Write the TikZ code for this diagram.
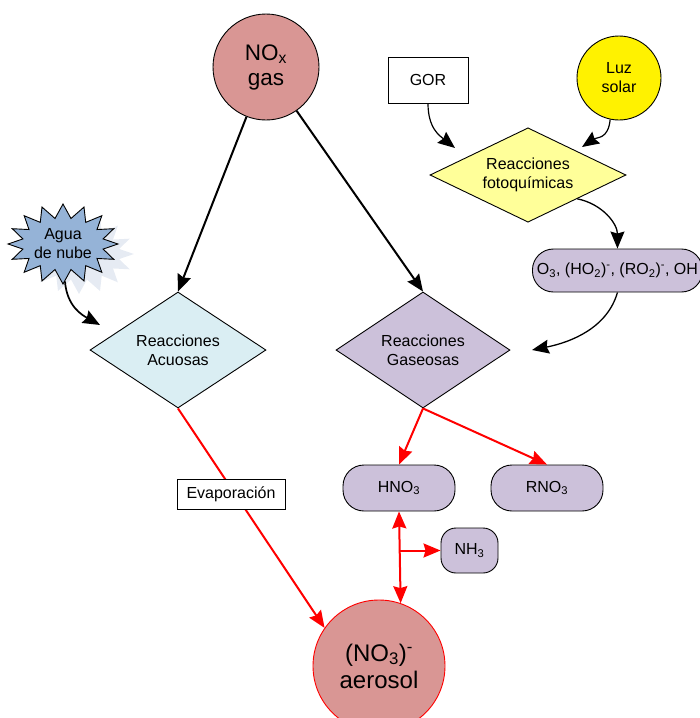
\documentclass[tikz,border=0pt]{standalone}
\usepackage{fontspec}
\setmainfont{Liberation Sans}
\usetikzlibrary{shapes.geometric, shapes.symbols, shadows, arrows.meta}

\definecolor{rosa}{HTML}{D99694}
\definecolor{agua}{HTML}{95B3D7}
\definecolor{sombra}{HTML}{E6EBF3}
\definecolor{celeste}{HTML}{DAEEF3}
\definecolor{lila}{HTML}{CCC1DA}
\definecolor{amarillo}{HTML}{FFFF99}

\begin{document}
\begin{tikzpicture}[x=1pt, y=-1pt,
    >={Stealth[length=17pt, width=14pt, inset=2pt]},
    txt/.style={font=\fontsize{16}{19}\selectfont, align=center},
    rombo/.style={diamond, draw, line width=0.9pt, txt, aspect=1.5, inner sep=0pt},
    pill/.style={draw, line width=0.9pt, fill=lila, rounded corners=21pt, txt}]
    \useasboundingbox (0,0) rectangle (700,718);
    \clip (0,0) rectangle (700,718);

    \node[circle, draw, line width=0.9pt, fill=rosa, minimum size=106pt, inner sep=0pt,
        font=\fontsize{22.5}{25}\selectfont, align=center] (nox) at (266,67) {NO\textsubscript{x}\\gas};
    \node[starburst, starburst points=16, starburst point height=14pt, random starburst=0,
        draw, line width=0.9pt, fill=agua, minimum width=97pt, minimum height=80pt, inner sep=0pt, txt,
        drop shadow={shadow xshift=16pt, shadow yshift=-10pt, fill=sombra, opacity=1}] (agua) at (63,244) {Agua\\de nube};
    \node[rombo, fill=celeste, minimum width=176pt, minimum height=116pt] (acuosas) at (178,350) {Reacciones\\Acuosas};
    \node[rombo, fill=lila, minimum width=174pt, minimum height=116pt] (gaseosas) at (423,350) {Reacciones\\Gaseosas};
    \node[rombo, fill=amarillo, minimum width=196pt, minimum height=86pt] (fotoq) at (528,175) {Reacciones\\fotoquímicas};
    \node[draw, line width=0.9pt, fill=white, minimum width=80pt, minimum height=46pt, txt] (gor) at (428,80) {GOR};
    \node[circle, draw, line width=0.9pt, fill=yellow, minimum size=84pt, inner sep=0pt, txt] (luz) at (619,78) {Luz\\solar};
    \node[pill, anchor=west, minimum width=170pt, minimum height=43pt, inner xsep=3pt] (o3) at (532,270.5)
        {O\textsubscript{3}, (HO\textsubscript{2})\textsuperscript{-}, (RO\textsubscript{2})\textsuperscript{-}, OH};
    \node[pill, minimum width=112pt, minimum height=46pt] (hno3) at (399,488) {HNO\textsubscript{3}};
    \node[pill, minimum width=112pt, minimum height=46pt] (rno3) at (547,488) {RNO\textsubscript{3}};
    \node[pill, rounded corners=15pt, minimum width=57pt, minimum height=45pt] (nh3) at (469.5,550.5) {NH\textsubscript{3}};
    \node[circle, draw=red, line width=0.9pt, fill=rosa, minimum size=132pt, inner sep=0pt,
        font=\fontsize{24}{27}\selectfont, align=center] (aerosol) at (379,666) {(NO\textsubscript{3})\textsuperscript{-}\\aerosol};

    \coordinate (pagua) at (100,325);
    \coordinate (pgor) at (455,148);
    \coordinate (pluz) at (582,147);
    \coordinate (pgas) at (532,350);
    \coordinate (cnh3) at (hno3.south |- nh3.west);

    \draw[->, line width=2pt] (nox) -- (acuosas.north);
    \draw[->, line width=2pt] (nox) -- (gaseosas.north);
    \draw[->, line width=1.7pt] (agua.-87) .. controls +(2,25) and +(-18,-10) .. (pagua);
    \draw[->, line width=1.2pt] (gor.south) .. controls +(0,25) and +(-15,-12) .. (pgor);
    \draw[->, line width=1.2pt] (luz.-102) .. controls +(-2,20) and +(15,-10) .. (pluz);
    \draw[->, line width=1.3pt] (fotoq.south east) .. controls +(25,5) and +(0,-25) .. (o3.north);
    \draw[->, line width=1.3pt] (o3.south) .. controls +(-10,35) and +(40,-8) .. (pgas);

    \draw[->, red, line width=2pt] (gaseosas.south) -- (hno3.north);
    \draw[->, red, line width=2pt] (gaseosas.south) -- (rno3.north);
    \draw[->, red, line width=2pt] (acuosas.south) -- (aerosol.145);
    \draw[<->, red, line width=2pt] (hno3.south) -- (aerosol.71);
    \draw[->, red, line width=2pt] (cnh3) -- (nh3.west);

    \node[draw, line width=0.9pt, fill=white, minimum width=108pt, minimum height=30pt, txt] (evap) at (231,494) {Evaporación};
\end{tikzpicture}
\end{document}
